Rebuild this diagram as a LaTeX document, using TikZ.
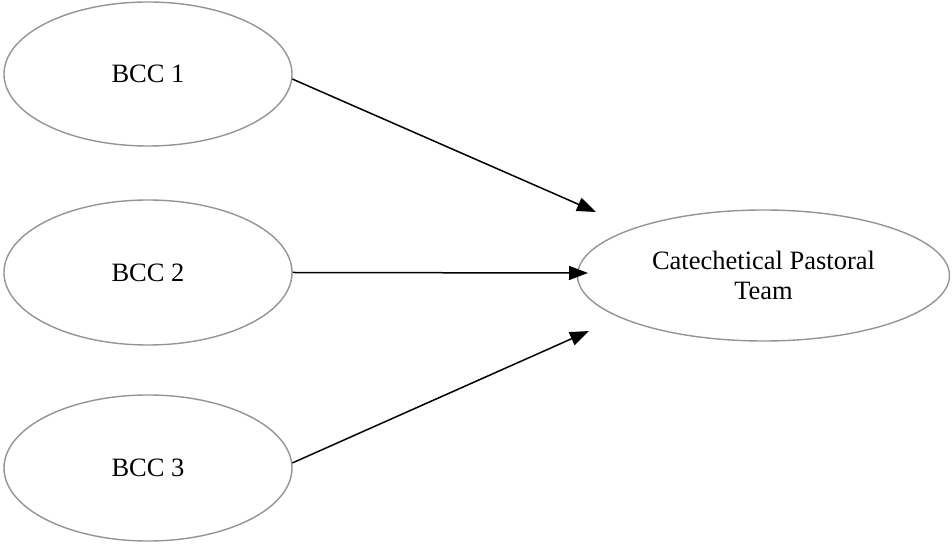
\documentclass[tikz,border=0pt]{standalone}
\usepackage{fontspec}
\setmainfont{Liberation Serif}
\usetikzlibrary{shapes.geometric,arrows.meta}
\begin{document}
\begin{tikzpicture}[x=1pt,y=1pt,
  oval/.style={ellipse,draw=black!42,line width=1.4pt,inner sep=0pt,font=\fontsize{26.5}{30}\selectfont,align=center},
  link/.style={draw=black,line width=1.5pt,-{Triangle[length=19pt,width=14pt]}}]
\useasboundingbox (0,0) rectangle (952,543);
\node[oval,minimum width=288pt,minimum height=144pt] (b1) at (148,469) {BCC 1};
\node[oval,minimum width=288pt,minimum height=145pt] (b2) at (148,270.5) {BCC 2};
\node[oval,minimum width=288pt,minimum height=146pt] (b3) at (148,75) {BCC 3};
\node[oval,minimum width=372pt,minimum height=131pt,font=\fontsize{26.5}{30}\selectfont] (cp) at (763.5,267.5) {Catechetical Pastoral\\Team};
\coordinate (e1) at (596,331);
\coordinate (e2) at (588,270);
\coordinate (e3) at (589,212);
\draw[link] (b1.-2.5) -- (e1);
\draw[link] (b2.east) -- (e2);
\draw[link] (b3.2) -- (e3);
\end{tikzpicture}
\end{document}
